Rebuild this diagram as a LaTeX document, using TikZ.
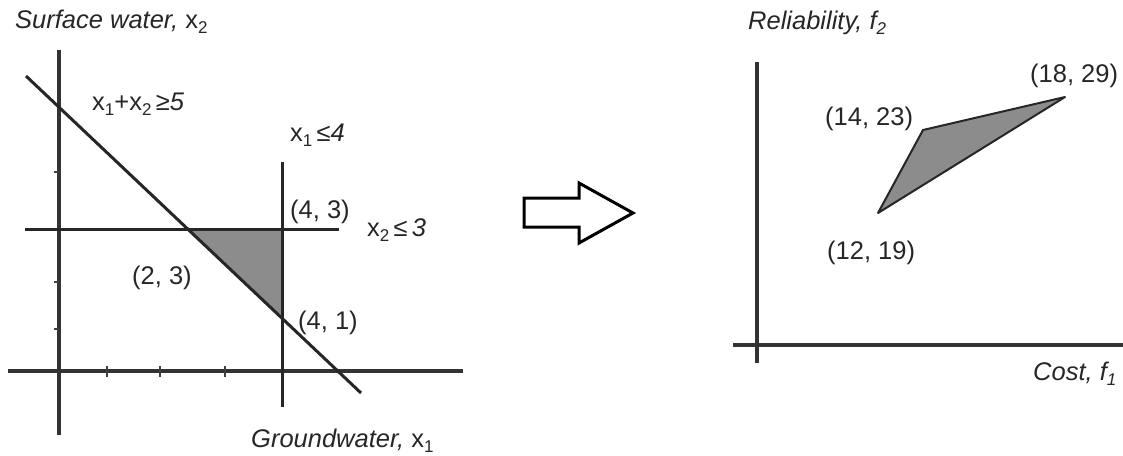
\documentclass[tikz,border=0pt]{standalone}
\usepackage{fontspec}
\setmainfont{Liberation Sans}
\newcommand\mysub[1]{\raisebox{-0.35ex}{\fontsize{17}{17}\selectfont #1}}
\begin{document}
\begin{tikzpicture}[x=1pt,y=-1pt,
  lbl/.style={font=\fontsize{25.5}{27}\selectfont, inner sep=0pt, anchor=west, text=black!85},
  axisline/.style={line width=4pt, draw=black!80},
  conline/.style={line width=3pt, draw=black!85},
  tickmark/.style={line width=2.5pt, draw=black!75},
  region/.style={fill=black!45, draw=black!85, line width=2pt, line join=round}]
\useasboundingbox (0,0) rectangle (1123,455);
% ---------- left plot ----------
\coordinate (lvt) at (59,50);
\coordinate (lvb) at (59,435);
\coordinate (lhl) at (8,371);
\coordinate (lhr) at (463,371);
\coordinate (c3l) at (25,229);
\coordinate (c3r) at (339,229);
\coordinate (c4t) at (282,162);
\coordinate (c4b) at (282,407);
\coordinate (dgs) at (26,76);
\coordinate (dge) at (361,393);
\coordinate (p23) at (187,229);
\coordinate (p43) at (282,229);
\coordinate (p41) at (282,319);
\fill[region, draw=none] (p23) -- (p43) -- (p41) -- cycle;
\draw[axisline] (lvt) -- (lvb);
\draw[axisline] (lhl) -- (lhr);
\foreach \ty in {172,282,329} \draw[tickmark] (54,\ty) -- (59,\ty);
\foreach \tx in {107,160,225} \draw[tickmark] (\tx,366) -- (\tx,377);
\draw[conline] (c3l) -- (c3r);
\draw[conline] (c4t) -- (c4b);
\draw[conline] (dgs) -- (dge);
\node[lbl] (lsw) at (15,22) {\textit{Surface water,} x\mysub{2}};
\node[lbl] (lc5) at (92,104) {x\mysub{1}+x\mysub{2}\,\textit{≥5}};
\node[lbl] (lc4) at (290,135) {x\mysub{1}\,\textit{≤4}};
\node[lbl] (lp43) at (290,212) {(4, 3)};
\node[lbl] (lc3) at (367,230) {x\mysub{2}\,\textit{≤\,3}};
\node[lbl] (lp23) at (132,278) {(2, 3)};
\node[lbl] (lp41) at (298,323) {(4, 1)};
\node[lbl] (lgw) at (251,441) {\textit{Groundwater,} x\mysub{1}};
% ---------- arrow ----------
\draw[line width=3pt, draw=black, line join=miter, fill=white]
  (524,198) -- (579,198) -- (579,183) -- (633,213) -- (579,243) -- (579,227) -- (524,227) -- cycle;
% ---------- right plot ----------
\coordinate (rvt) at (757,62);
\coordinate (rvb) at (757,363);
\coordinate (rhl) at (733,345);
\coordinate (rhr) at (1123,345);
\coordinate (q1219) at (878,213);
\coordinate (q1423) at (923,130);
\coordinate (q1829) at (1065,97);
\draw[axisline] (rvt) -- (rvb);
\draw[axisline] (rhl) -- (rhr);
\draw[region] (q1219) -- (q1423) -- (q1829) -- cycle;
\node[lbl] (rrel) at (748,23) {\textit{Reliability, f\mysub{2}}};
\node[lbl] (r1829) at (1030,76) {(18, 29)};
\node[lbl] (r1423) at (825,119) {(14, 23)};
\node[lbl] (r1219) at (827,253) {(12, 19)};
\node[lbl] (rcost) at (1033,374) {\textit{Cost, f\mysub{1}}};
\end{tikzpicture}
\end{document}
